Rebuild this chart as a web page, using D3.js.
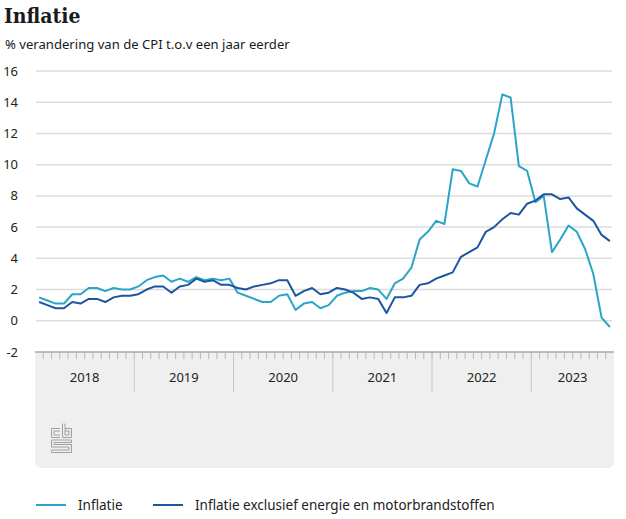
<!DOCTYPE html>
<html>
<head>
<meta charset="utf-8">
<script src="https://cdn.jsdelivr.net/npm/d3@7"></script>
<style>
  body { margin: 0; background: #fff; }
  svg { display: block; }
</style>
</head>
<body>
<svg id="chart" width="626" height="519"></svg>
<script>

// years shown on the x axis band
var years = ['2018', '2019', '2020', '2021', '2022', '2023'];

// months per year (2023 runs until october)
var monthsPerYear = [12, 12, 12, 12, 12, 10];

// y axis tick labels
var yTicks = [-2, 0, 2, 4, 6, 8, 10, 12, 14, 16];

// inflatie, jan 2018 - okt 2023
var inflatie = [
  1.5, 1.3, 1.1, 1.1, 1.7, 1.7, 2.1, 2.1, 1.9, 2.1, 2.0, 2.0,
  2.2, 2.6, 2.8, 2.9, 2.5, 2.7, 2.5, 2.8, 2.6, 2.7, 2.6, 2.7,
  1.8, 1.6, 1.4, 1.2, 1.2, 1.6, 1.7, 0.7, 1.1, 1.2, 0.8, 1.0,
  1.6, 1.8, 1.9, 1.9, 2.1, 2.0, 1.4, 2.4, 2.7, 3.4, 5.2, 5.7,
  6.4, 6.2, 9.7, 9.6, 8.8, 8.6, 10.3, 12.0, 14.5, 14.3, 9.9, 9.6,
  7.6, 8.0, 4.4, 5.2, 6.1, 5.7, 4.6, 3.0, 0.2, -0.4
];

// inflatie exclusief energie en motorbrandstoffen
var inflatieExcl = [
  1.2, 1.0, 0.8, 0.8, 1.2, 1.1, 1.4, 1.4, 1.2, 1.5, 1.6, 1.6,
  1.7, 2.0, 2.2, 2.2, 1.8, 2.2, 2.3, 2.7, 2.5, 2.6, 2.3, 2.3,
  2.1, 2.0, 2.2, 2.3, 2.4, 2.6, 2.6, 1.6, 1.9, 2.1, 1.7, 1.8,
  2.1, 2.0, 1.8, 1.4, 1.5, 1.4, 0.5, 1.5, 1.5, 1.6, 2.3, 2.4,
  2.7, 2.9, 3.1, 4.1, 4.4, 4.7, 5.7, 6.0, 6.5, 6.9, 6.8, 7.5,
  7.7, 8.1, 8.1, 7.8, 7.9, 7.2, 6.8, 6.4, 5.5, 5.1
];

var seriesNames = ['Inflatie', 'Inflatie exclusief energie en motorbrandstoffen'];

var colorLight = '#2aa5c7';
var colorDark = '#1c55a0';
var font = '"Noto Sans", "Open Sans", sans-serif';

// builds month keys like 2018-0 ... 2023-9
var months = [];
years.forEach(function(y, yi) {
  for (var m = 0; m < monthsPerYear[yi]; m++) {
    months.push(y + '-' + m);
  }
});

var svg = d3.select('#chart');

var x = d3.scaleBand()
  .domain(months)
  .range([35, 614])
  .paddingInner(0)
  .paddingOuter(0);

var y = d3.scaleLinear()
  .domain([-2, 16])
  .range([352, 71]);

// title + subtitle
svg.append('text')
  .attr('x', 4)
  .attr('y', 23)
  .attr('font-family', '"DejaVu Serif", serif')
  .attr('font-weight', 'bold')
  .attr('font-stretch', 'condensed')
  .attr('font-size', 21)
  .attr('fill', '#1a1a1a')
  .text('Inflatie');

svg.append('text')
  .attr('x', 5)
  .attr('y', 49)
  .attr('font-family', font)
  .attr('font-size', 13.1)
  .attr('fill', '#1a1a1a')
  .text('% verandering van de CPI t.o.v een jaar eerder');

// gray band below the plot (x axis + logo area)
var bandTop = y(-2);
svg.append('path')
  .attr('d', 'M35,' + bandTop + 'H614V462a6,6 0 0 1 -6,6H41a6,6 0 0 1 -6,-6Z')
  .attr('fill', '#efefef');

// horizontal gridlines
svg.append('g')
  .selectAll('line')
  .data(yTicks.filter(function(d) { return d > -2; }))
  .enter().append('line')
    .attr('x1', 36)
    .attr('x2', 612)
    .attr('y1', function(d) { return y(d); })
    .attr('y2', function(d) { return y(d); })
    .attr('stroke', '#dcdcdc')
    .attr('stroke-width', 1.5);

// y labels
svg.append('g')
  .selectAll('text')
  .data(yTicks)
  .enter().append('text')
    .attr('x', 18)
    .attr('y', function(d) { return y(d); })
    .attr('dy', '0.35em')
    .attr('text-anchor', 'end')
    .attr('font-family', font)
    .attr('font-size', 13)
    .attr('fill', '#222')
    .text(function(d) { return d; });

// month ticks
svg.append('g')
  .selectAll('line')
  .data(months.slice(1))
  .enter().append('line')
    .attr('x1', function(d) { return x(d); })
    .attr('x2', function(d) { return x(d); })
    .attr('y1', bandTop)
    .attr('y2', bandTop + 7)
    .attr('stroke', '#b8b8b8')
    .attr('stroke-width', 1);

// year separators + labels
var yearStart = years.map(function(yr) { return x(yr + '-0'); });
svg.append('g')
  .selectAll('line')
  .data(years.slice(1))
  .enter().append('line')
    .attr('x1', function(d) { return x(d + '-0'); })
    .attr('x2', function(d) { return x(d + '-0'); })
    .attr('y1', bandTop)
    .attr('y2', bandTop + 40)
    .attr('stroke', '#c8c8c8')
    .attr('stroke-width', 1);

svg.append('g')
  .selectAll('text')
  .data(years)
  .enter().append('text')
    .attr('x', function(d, i) {
      var end = i < years.length - 1 ? yearStart[i + 1] : x.range()[1];
      return (yearStart[i] + end) / 2;
    })
    .attr('y', bandTop + 30)
    .attr('text-anchor', 'middle')
    .attr('font-family', font)
    .attr('font-size', 13)
    .attr('fill', '#222')
    .text(function(d) { return d; });

// axis line on top of the band
svg.append('line')
  .attr('x1', 35)
  .attr('x2', 614)
  .attr('y1', bandTop)
  .attr('y2', bandTop)
  .attr('stroke', '#a8a8a8')
  .attr('stroke-width', 1.5);

// cbs logo (rough outline)
var logo = svg.append('g')
  .attr('transform', 'translate(51,423)')
  .attr('fill', 'none')
  .attr('stroke', '#a0a0a0')
  .attr('stroke-width', 1);
logo.append('path').attr('d', 'M9,5.5H0.5V14.5H9 M9,8H3V12H9');
logo.append('path').attr('d', 'M11.5,0.5V14.5H20.5V5.5H14 M14,0.5V12H18V8H14');
logo.append('path').attr('d', 'M20.5,17H0.5V24H18V27H0.5V29.5H20.5V21.5H3V19.5H20.5Z');

// lines
var line = d3.line()
  .x(function(d, i) { return x(months[i]) + x.bandwidth() / 2; })
  .y(function(d) { return y(d); });

svg.append('path')
  .datum(inflatie)
  .attr('d', line)
  .attr('fill', 'none')
  .attr('stroke', colorLight)
  .attr('stroke-width', 2)
  .attr('stroke-linejoin', 'round');

svg.append('path')
  .datum(inflatieExcl)
  .attr('d', line)
  .attr('fill', 'none')
  .attr('stroke', colorDark)
  .attr('stroke-width', 2)
  .attr('stroke-linejoin', 'round');

// legend
var legend = svg.append('g');
var legendX = [36, 153];
var legendColors = [colorLight, colorDark];
seriesNames.forEach(function(name, i) {
  legend.append('line')
    .attr('x1', legendX[i])
    .attr('x2', legendX[i] + 30)
    .attr('y1', 505)
    .attr('y2', 505)
    .attr('stroke', legendColors[i])
    .attr('stroke-width', 2);
  legend.append('text')
    .attr('x', legendX[i] + 42)
    .attr('y', 505)
    .attr('dy', '0.35em')
    .attr('font-family', font)
    .attr('font-size', 13.5)
    .attr('fill', '#222')
    .text(name);
});

</script>
</body>
</html>
